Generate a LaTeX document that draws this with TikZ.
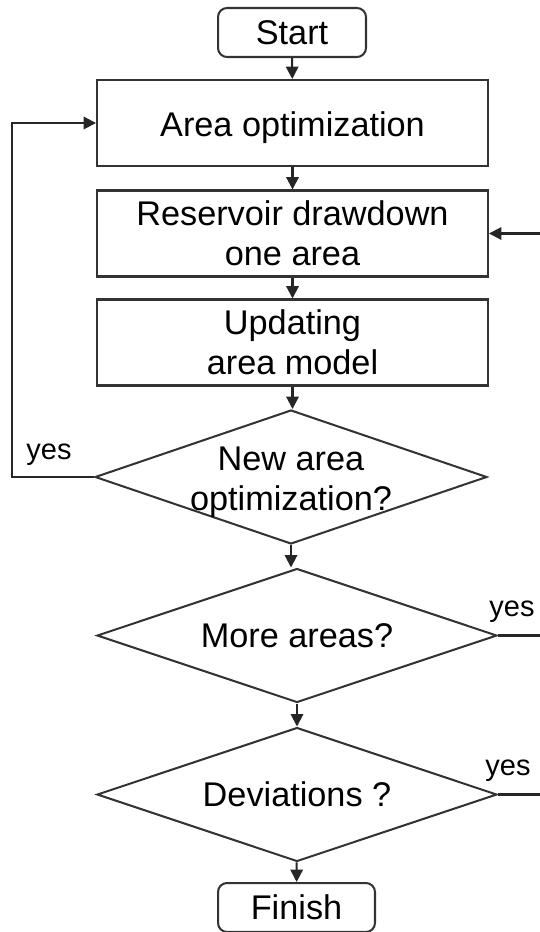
\documentclass[tikz,border=0pt]{standalone}
\usepackage{fontspec}
\setmainfont{Liberation Sans}
\usetikzlibrary{shapes.geometric,arrows.meta}

\newcommand{\flowfont}{\fontsize{19.5}{23}\selectfont}
\newcommand{\yesfont}{\fontsize{16.5}{19}\selectfont}

\tikzset{
  flowline/.style={draw=black!85, line width=1.15pt},
  arr/.style={flowline, -{Triangle[length=7pt,width=7pt]}},
  procbox/.style={rectangle, draw=black!80, line width=1.15pt, minimum width=7.82cm,
    minimum height=1.72cm, inner sep=0pt, align=center, font=\flowfont},
  termbox/.style={rectangle, rounded corners=0.18cm, draw=black!80, line width=1.15pt,
    minimum height=0.98cm, inner sep=0pt, font=\flowfont},
  decision/.style={diamond, draw=black!80, line width=1.15pt, minimum width=8cm,
    minimum height=2.68cm, inner sep=0pt},
  qlabel/.style={align=center, font=\flowfont, inner sep=0pt},
  yeslbl/.style={font=\yesfont, inner sep=0pt}
}

\begin{document}
\begin{tikzpicture}[x=0.02cm,y=-0.02cm]
  \useasboundingbox (0,0) rectangle (540,932);

  % main column
  \node[termbox, minimum width=2.96cm] (start) at (292,32.5) {Start};
  \node[procbox, text height=0.69cm] (area) at (292.5,123) {Area optimization};
  \node[procbox] (drawdown) at (292.5,233.5) {Reservoir drawdown\\one area};
  \node[procbox] (update) at (292.5,342.5) {Updating\\area model};
  \node[decision, minimum width=7.84cm,
    label={[qlabel, yshift=-0.1cm]center:New area\\optimization?}] (newopt) at (291,477) {};
  \node[decision, label={[qlabel]center:More areas?}] (more) at (297,635.5) {};
  \node[decision, label={[qlabel]center:Deviations ?}] (dev) at (297,794.5) {};
  \node[termbox, minimum width=3.14cm] (finish) at (296.5,907.5) {Finish};

  \draw[arr] (start) -- (area);
  \draw[arr] (area) -- (drawdown);
  \draw[arr] (drawdown) -- (update);
  \draw[arr] (update.south) -- (update.south |- newopt.north);
  \draw[arr] (newopt.south) -- (newopt.south |- more.north);
  \draw[arr] (more) -- (dev);
  \draw[arr] (dev) -- (finish);

  % loops
  \coordinate (leftrail) at (12,0);
  \coordinate (rightedge) at (540,0);
  \draw[arr] (newopt.west) -- (newopt.west -| leftrail) |- (area.west);
  \draw[flowline] (more.east) -- (more.east -| rightedge);
  \draw[flowline] (dev.east) -- (dev.east -| rightedge);
  \draw[arr] (drawdown.east -| rightedge) -- (drawdown.east);

  \node[yeslbl, anchor=base] (yesnew) at (49,459) {yes};
  \node[yeslbl, anchor=base] (yesmore) at (512,616) {yes};
  \node[yeslbl, anchor=base] (yesdev) at (508,775) {yes};
\end{tikzpicture}
\end{document}
